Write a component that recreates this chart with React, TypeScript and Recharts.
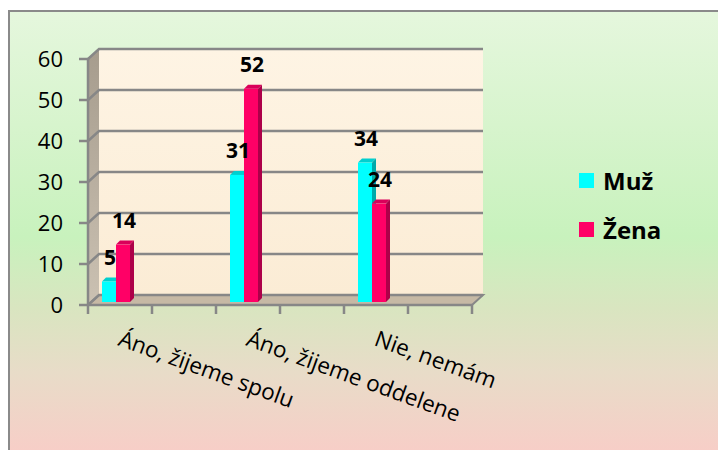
import React from 'react';
import { BarChart, Bar, XAxis, YAxis, CartesianGrid, Legend, LabelList } from 'recharts';

const categories = ['Áno, žijeme spolu', 'Áno, žijeme oddelene', 'Nie, nemám'];
const muzValues = [5, 31, 34];
const zenaValues = [14, 52, 24];
const yTicks = [0, 10, 20, 30, 40, 50, 60];

const data = categories.map((name, i) => ({ name, muz: muzValues[i], zena: zenaValues[i] }));

// 3D look
const DEPTH_X = 11;
const DEPTH_Y = 10;
const BAR_SHIFT = -36;
const BAR_LIFT = 3;
const BAR_DEPTH = 4;
const GRID = '#878787';
const FONT = '"Open Sans", sans-serif';

const gridLine = (props: any) => {
  const { x1, y1, x2, x, y, width, height, index } = props;
  const line = (
    <path
      d={`M${x1},${y1}L${x1 + DEPTH_X},${y1 - DEPTH_Y}L${x2 + DEPTH_X},${y1 - DEPTH_Y}`}
      fill="none"
      stroke={GRID}
      strokeWidth={2.5}
    />
  );
  if (index !== 0) return line;
  const bottom = y + height;
  return (
    <g>
      <defs>
        <linearGradient id="wallFill" x1="0" y1="0" x2="0" y2="1">
          <stop offset="0%" stopColor="#fef4e4" />
          <stop offset="100%" stopColor="#fbecd5" />
        </linearGradient>
        <linearGradient id="sideFill" x1="0" y1="0" x2="0" y2="1">
          <stop offset="0%" stopColor="#a69c8d" />
          <stop offset="100%" stopColor="#cbc1b2" />
        </linearGradient>
      </defs>
      <rect x={x + DEPTH_X} y={y - DEPTH_Y} width={width} height={height} fill="url(#wallFill)" />
      <path
        d={`M${x},${y}L${x + DEPTH_X},${y - DEPTH_Y}L${x + DEPTH_X},${bottom - DEPTH_Y}L${x},${bottom}Z`}
        fill="url(#sideFill)"
      />
      <path
        d={`M${x},${bottom}L${x + DEPTH_X},${bottom - DEPTH_Y}L${x + width + DEPTH_X},${bottom - DEPTH_Y}L${x + width},${bottom}Z`}
        fill="#c6b9a5"
        stroke={GRID}
        strokeWidth={2}
      />
      {line}
    </g>
  );
};

const make3DBar = (front: string, top: string, side: string) => (props: any) => {
  const { x, y, width, height } = props;
  if (!height) return <g />;
  const fx = x + BAR_SHIFT;
  const fy = y - BAR_LIFT;
  const d = BAR_DEPTH;
  return (
    <g>
      <path d={`M${fx},${fy}L${fx + d},${fy - d}L${fx + width + d},${fy - d}L${fx + width},${fy}Z`} fill={top} />
      <path
        d={`M${fx + width},${fy}L${fx + width + d},${fy - d}L${fx + width + d},${fy + height - d}L${fx + width},${fy + height}Z`}
        fill={side}
      />
      <rect x={fx} y={fy} width={width} height={height} fill={front} />
    </g>
  );
};

const ValueLabel = (props: any) => {
  const vb = props.viewBox || {};
  const x = props.x ?? vb.x;
  const y = props.y ?? vb.y;
  const width = props.width ?? vb.width;
  return (
    <text
      x={x + BAR_SHIFT + width / 2 + 1}
      y={y - BAR_LIFT - 17}
      textAnchor="middle"
      fontSize={21}
      fontWeight={700}
      fontFamily={FONT}
      fill="#000"
    >
      {props.value}
    </text>
  );
};

const CategoryTick = (props: any) => {
  const { x, y, payload, index, visibleTicksCount } = props;
  const half = payload.offset || 64;
  const sx = x - 35;
  const sy = y + 40;
  const tick = (tx: number) => <line x1={tx} y1={y} x2={tx} y2={y + 9} stroke={GRID} strokeWidth={2.5} />;
  return (
    <g>
      {tick(x - half)}
      {tick(x)}
      {index === visibleTicksCount - 1 && tick(x + half)}
      <text x={sx} y={sy} transform={`rotate(20 ${sx} ${sy})`} fontSize={22.5} fontFamily={FONT} fill="#000">
        {payload.value}
      </text>
    </g>
  );
};

const LegendContent = (props: any) => (
  <div style={{ fontFamily: FONT }}>
    {(props.payload || []).map((p: any) => (
      <div key={p.value} style={{ display: 'flex', alignItems: 'center', height: 49 }}>
        <div style={{ width: 15, height: 15, background: p.color, marginRight: 9 }} />
        <span style={{ fontSize: 24, fontWeight: 700, color: '#000' }}>{p.value}</span>
      </div>
    ))}
  </div>
);

export default function App() {
  return (
    <div style={{ position: 'relative', width: 718, height: 450, overflow: 'hidden', background: '#fff' }}>
      <style>{`body{margin:0}`}</style>
      <div
        style={{
          position: 'absolute',
          left: 8,
          top: 10,
          width: 760,
          height: 450,
          borderLeft: '2px solid #8a8a8a',
          borderTop: '2px solid #8a8a8a',
          background:
            'linear-gradient(to bottom, #e5f7dd 0%, #d7f4cd 25%, #c8f2bd 50%, #d9e5c0 66%, #e8dcc8 80%, #f9ccc7 100%)',
        }}
      />
      <div style={{ position: 'absolute', left: 0, top: 0 }}>
        <BarChart
          width={718}
          height={450}
          data={data}
          margin={{ top: 59, right: 246, left: 28, bottom: 25 }}
          barSize={14}
          barGap={0}
        >
          <CartesianGrid vertical={false} horizontal={gridLine} />
          <XAxis
            dataKey="name"
            height={120}
            interval={0}
            tickSize={0}
            tickMargin={0}
            tickLine={false}
            axisLine={{ stroke: GRID, strokeWidth: 2.5 }}
            tick={<CategoryTick />}
          />
          <YAxis
            domain={[0, 60]}
            ticks={yTicks}
            width={60}
            tickSize={9}
            tickMargin={16}
            axisLine={{ stroke: GRID, strokeWidth: 2.5 }}
            tickLine={{ stroke: GRID, strokeWidth: 2.5 }}
            tick={{ fill: '#000', fontSize: 22, fontFamily: FONT }}
          />
          <Legend
            layout="vertical"
            align="center"
            verticalAlign="middle"
            wrapperStyle={{ left: 579, top: 156, width: 130 }}
            content={LegendContent}
          />
          <Bar dataKey="muz" name="Muž" fill="#00ffff" isAnimationActive={false} shape={make3DBar('#00ffff', '#00cfcf', '#00a9aa')}>
            <LabelList dataKey="muz" content={ValueLabel} />
          </Bar>
          <Bar dataKey="zena" name="Žena" fill="#ff0066" isAnimationActive={false} shape={make3DBar('#ff0066', '#d9005a', '#ad0049')}>
            <LabelList dataKey="zena" content={ValueLabel} />
          </Bar>
        </BarChart>
      </div>
    </div>
  );
}
